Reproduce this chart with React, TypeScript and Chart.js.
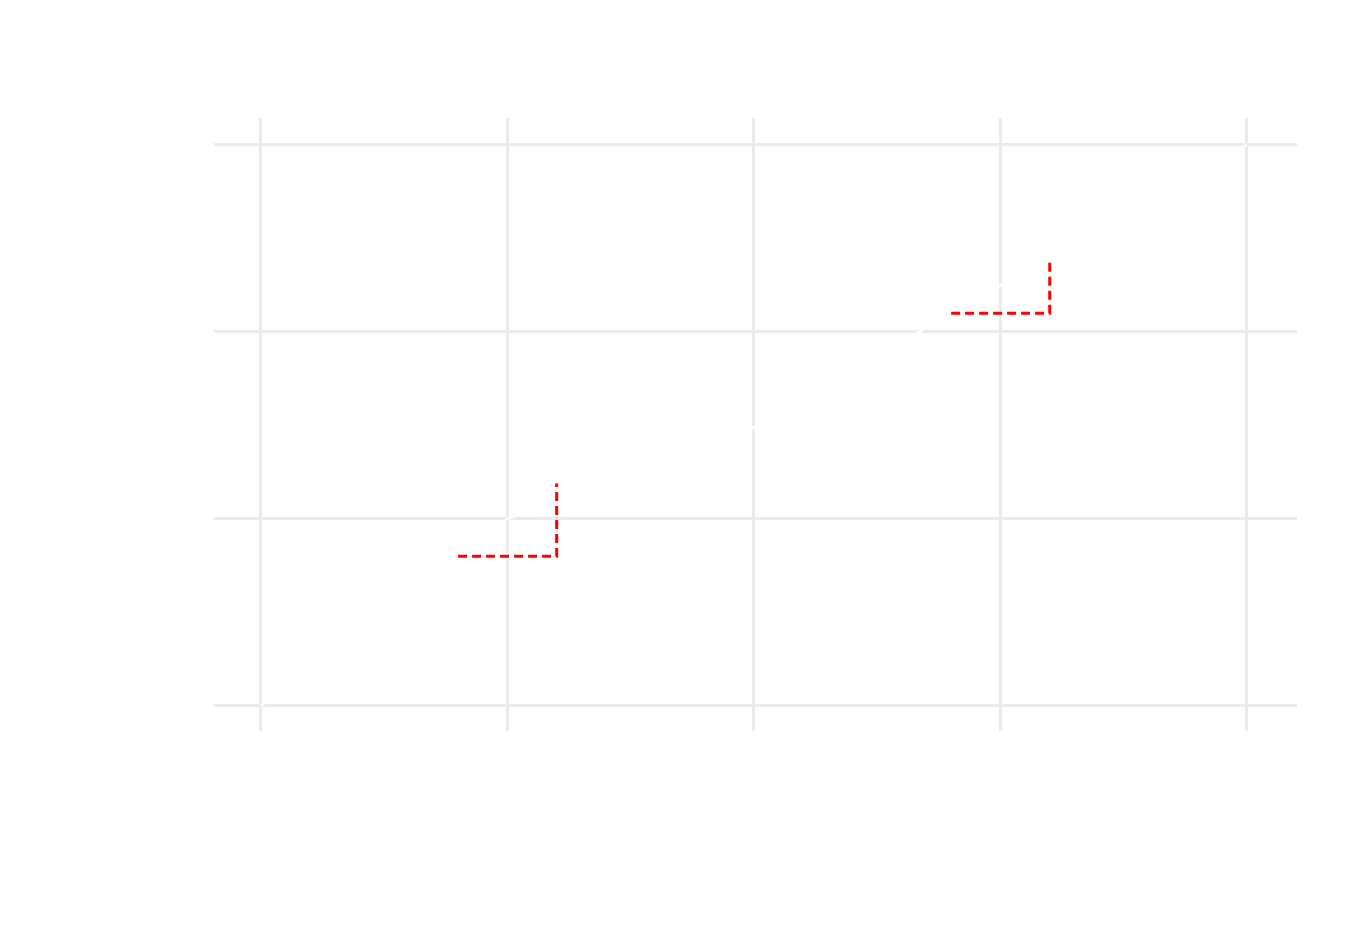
import { useEffect, useRef } from 'react';
import Chart from 'chart.js/auto';

const X_TICKS = [0, 1, 2, 3, 4];
const Y_TICKS = [0, 1, 2, 3];

// main curve (drawn in white, only visible where it cuts the grid)
const CURVE_X = [0, 1, 2, 3, 4];
const CURVE_Y = [0, 1, 1.49, 2.25, 3];

// slope triangles (red, dashed)
const TRI_A_X = [0.8, 1.2, 1.2];
const TRI_A_Y = [0.8, 0.8, 1.19];
const TRI_B_X = [2.8, 3.2, 3.2];
const TRI_B_Y = [2.1, 2.1, 2.39];

const C = {
  grid: '#ebebeb',
  line: '#ffffff',
  red: '#ff0000'
};

const pts = (xs: number[], ys: number[]) => xs.map((x, i) => ({ x, y: ys[i] }));

export default function App() {
  const canvasRef = useRef<HTMLCanvasElement | null>(null);

  useEffect(() => {
    let chart: Chart | null = null;

    if (canvasRef.current) {
      const dashed = {
        showLine: true,
        borderColor: C.red,
        borderWidth: 3,
        borderDash: [9, 5],
        pointRadius: 0,
        fill: false,
        tension: 0
      };

      chart = new Chart(canvasRef.current, {
        type: 'scatter',
        data: {
          datasets: [
            { ...dashed, data: pts(TRI_A_X, TRI_A_Y) },
            { ...dashed, data: pts(TRI_B_X, TRI_B_Y) },
            {
              data: pts(CURVE_X, CURVE_Y),
              showLine: true,
              borderColor: C.line,
              borderWidth: 2.5,
              pointRadius: 0,
              fill: false,
              tension: 0
            }
          ]
        },
        options: {
          responsive: false,
          animation: false,
          layout: {
            padding: { left: 214, right: 57, top: 118, bottom: 203 }
          },
          plugins: {
            legend: { display: false },
            tooltip: { enabled: false }
          },
          scales: {
            x: {
              type: 'linear',
              min: -0.19,
              max: 4.203,
              afterBuildTicks: (axis) => {
                axis.ticks = X_TICKS.map((v) => ({ value: v }));
              },
              ticks: { display: false },
              grid: { color: C.grid, lineWidth: 3, drawTicks: false },
              border: { display: false }
            },
            y: {
              type: 'linear',
              min: -0.134,
              max: 3.144,
              afterBuildTicks: (axis) => {
                axis.ticks = Y_TICKS.map((v) => ({ value: v }));
              },
              ticks: { display: false },
              grid: { color: C.grid, lineWidth: 3, drawTicks: false },
              border: { display: false }
            }
          }
        }
      });
    }

    return () => {
      if (chart) chart.destroy();
    };
  }, []);

  return (
    <div style={{ position: 'absolute', left: 0, top: 0, width: 1354, height: 934, background: '#ffffff' }}>
      <canvas ref={canvasRef} width={1354} height={934}></canvas>
    </div>
  );
}
